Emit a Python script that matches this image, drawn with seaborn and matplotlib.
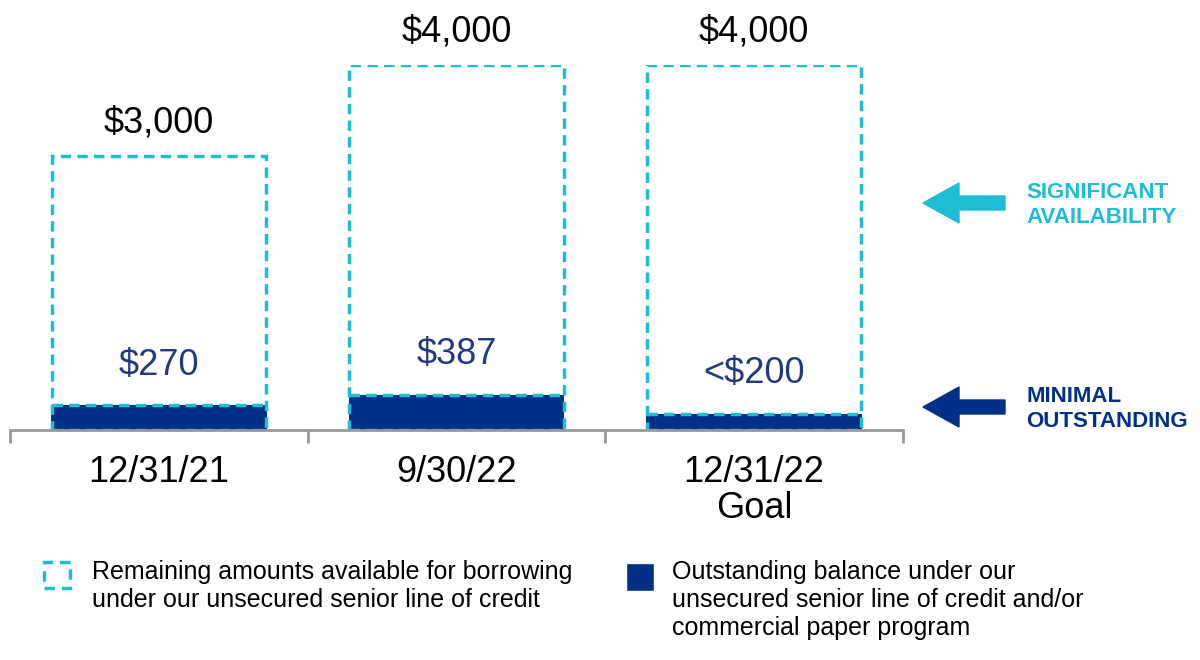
import matplotlib
matplotlib.use("Agg")
import matplotlib.pyplot as plt
import seaborn as sns
import pandas as pd
from matplotlib.patches import Rectangle, FancyArrow

categories = ["12/31/21", "9/30/22", "12/31/22\nGoal"]
total_capacity = [3000, 4000, 4000]
outstanding = [270, 387, 180]
total_labels = ["$3,000", "$4,000", "$4,000"]
out_labels = ["$270", "$387", "<$200"]

CYAN = "#1fbcd6"
NAVY = "#003087"
NAVY_T = "#1f3a80"

sns.set_theme(style="white")
plt.rcParams['font.family'] = ['Liberation Sans', 'DejaVu Sans']

fig = plt.figure(figsize=(12, 6.6), dpi=100)
ax = fig.add_axes([10/1200, (660-430)/660, 893/1200, 365/660])

df = pd.DataFrame({"cat": categories, "total": total_capacity, "out": outstanding})
sns.barplot(data=df, x="cat", y="out", color=NAVY, width=0.725, ax=ax, saturation=1, linewidth=0)
sns.barplot(data=df, x="cat", y="total", fill=False, width=0.72, ax=ax,
            edgecolor=CYAN, linewidth=2.5, linestyle=(0, (3, 1.8)), saturation=1)
# dashed cyan line on top of outstanding bars
for i, o in enumerate(outstanding):
    ax.plot([i - 0.36, i + 0.36], [o, o], color=CYAN, lw=2.5, ls=(0, (3, 1.8)))

for i, (t, o) in enumerate(zip(total_capacity, outstanding)):
    ax.text(i, t + 170, total_labels[i], ha="center", va="bottom", fontsize=26, color="black", clip_on=False)
    ax.text(i, o + 250, out_labels[i], ha="center", va="bottom", fontsize=26, color=NAVY_T)

ax.set_xlim(-0.5, 2.5)
ax.set_ylim(0, 4000)
ax.set_yticks([])
ax.set_xlabel("")
ax.set_ylabel("")
for s in ["top", "right", "left"]:
    ax.spines[s].set_visible(False)
ax.spines["bottom"].set_color("#999999")
ax.spines["bottom"].set_linewidth(2)
ax.set_xticks([0, 1, 2])
ax.set_xticklabels(categories, fontsize=26, linespacing=1.05, color="black")
ax.set_xticks([-0.5, 0.5, 1.5, 2.5], minor=True)
ax.tick_params(axis="x", which="major", length=0, pad=18)
ax.tick_params(axis="x", which="minor", length=9, width=2, color="#999999", direction="out", bottom=True)

def farrow(y, color):
    fig.patches.append(FancyArrow(1005/1200, 1-y/660, -82/1200, 0, width=14/660,
                                  head_width=40/660, head_length=36/1200,
                                  length_includes_head=True, color=color,
                                  transform=fig.transFigure, figure=fig))
farrow(203, CYAN)
farrow(407, NAVY)
fig.text(1026/1200, 1-205/660, "SIGNIFICANT\nAVAILABILITY", color=CYAN, fontsize=16,
         fontweight="bold", va="center", ha="left", linespacing=1.3)
fig.text(1026/1200, 1-409/660, "MINIMAL\nOUTSTANDING", color=NAVY, fontsize=16,
         fontweight="bold", va="center", ha="left", linespacing=1.3)

fig.patches.append(Rectangle((44/1200, 1-588/660), 26/1200, 26/660, fill=False,
                             edgecolor=CYAN, linewidth=2.5, linestyle=(0, (3, 2)),
                             transform=fig.transFigure, figure=fig))
fig.text(92/1200, 1-560/660, "Remaining amounts available for borrowing\nunder our unsecured senior line of credit",
         fontsize=18, va="top", ha="left", linespacing=1.2, color="black")
fig.patches.append(Rectangle((626/1200, 1-591/660), 28/1200, 28/660, facecolor=NAVY,
                             transform=fig.transFigure, figure=fig))
fig.text(672/1200, 1-560/660, "Outstanding balance under our\nunsecured senior line of credit and/or\ncommercial paper program",
         fontsize=18, va="top", ha="left", linespacing=1.2, color="black")

fig.savefig("out.png", dpi=100, facecolor="white")
